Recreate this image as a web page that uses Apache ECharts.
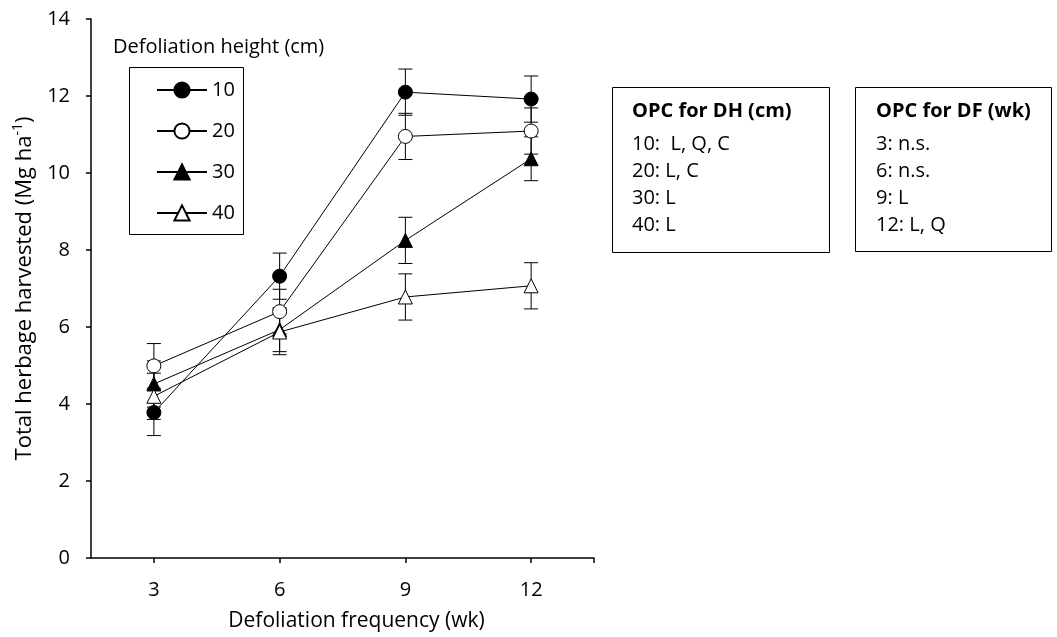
<!DOCTYPE html>
<html>
<head>
<meta charset="utf-8">
<script src="https://cdn.jsdelivr.net/npm/echarts@6/dist/echarts.min.js"></script>
<style>
  html, body { margin: 0; padding: 0; background: #fff; }
  #chart { width: 1057px; height: 637px; }
</style>
</head>
<body>
<div id="chart"></div>
<script>
// defoliation frequency (wk) on x, one line per defoliation height
const weeks = [3, 6, 9, 12];
const heights = ['10', '20', '30', '40'];
const dh10 = [3.78, 7.32, 12.10, 11.92];
const dh20 = [4.99, 6.40, 10.95, 11.09];
const dh30 = [4.52, 5.93, 8.25, 10.37];
const dh40 = [4.20, 5.87, 6.78, 7.07];
// standard errors
const se10 = [0.60, 0.60, 0.60, 0.60];
const se20 = [0.58, 0.58, 0.60, 0.60];
const se30 = [0.60, 0.57, 0.60, 0.57];
const se40 = [0.60, 0.59, 0.60, 0.60];
const xTicks = [3, 6, 9, 12];

const dhTitle = 'OPC for DH (cm)';
const dhLines = ['10:  L, Q, C', '20: L, C', '30: L', '40: L'];
const dfTitle = 'OPC for DF (wk)';
const dfLines = ['3: n.s.', '6: n.s.', '9: L', '12: L, Q'];

const FONT = '"Open Sans", sans-serif';
const FS = 20;

const values = [dh10, dh20, dh30, dh40];
const errors = [se10, se20, se30, se40];
const symbols = ['circle', 'circle', 'triangle', 'triangle'];
const fills = ['#000', '#fff', '#000', '#fff'];

const chart = echarts.init(document.getElementById('chart'));

const errSeries = heights.map((h, i) => ({
  type: 'custom',
  name: 'se' + h,
  silent: true,
  z: 1,
  data: weeks.map((w, j) => [w, values[i][j] - errors[i][j], values[i][j] + errors[i][j]]),
  renderItem(params, api) {
    const lo = api.coord([api.value(0), api.value(1)]);
    const hi = api.coord([api.value(0), api.value(2)]);
    const cap = 7;
    const st = { stroke: '#000', lineWidth: 1 };
    return {
      type: 'group',
      children: [
        { type: 'line', shape: { x1: lo[0], y1: lo[1], x2: hi[0], y2: hi[1] }, style: st },
        { type: 'line', shape: { x1: lo[0] - cap, y1: lo[1], x2: lo[0] + cap, y2: lo[1] }, style: st },
        { type: 'line', shape: { x1: hi[0] - cap, y1: hi[1], x2: hi[0] + cap, y2: hi[1] }, style: st }
      ]
    };
  }
}));

const lineSeries = heights.map((h, i) => ({
  type: 'line',
  name: h,
  z: 3,
  data: weeks.map((w, j) => [w, values[i][j]]),
  symbol: symbols[i],
  symbolSize: 14,
  showAllSymbol: true,
  lineStyle: { color: '#000', width: 1 },
  itemStyle: { color: fills[i], borderColor: '#000', borderWidth: 1, opacity: 1 },
  emphasis: { disabled: true },
  animation: false
}));

function boxText(x, y, list, title) {
  const out = [{
    type: 'text', left: x, top: y,
    style: { text: title, font: 'bold ' + FS + 'px ' + FONT, fill: '#000' }
  }];
  list.forEach((t, k) => {
    out.push({
      type: 'text', left: x, top: y + 33 + k * 27,
      style: { text: t, font: FS + 'px ' + FONT, fill: '#000' }
    });
  });
  return out;
}

const option = {
  animation: false,
  backgroundColor: '#fff',
  grid: { left: 91, right: 463, top: 19, bottom: 79, outerBoundsMode: 'none' },
  textStyle: { fontFamily: FONT },
  legend: {
    data: heights,
    orient: 'vertical',
    left: 151,
    top: 75,
    itemWidth: 50,
    itemHeight: 19,
    itemGap: 21,
    selectedMode: false,
    textStyle: { fontSize: FS, color: '#000', fontFamily: FONT }
  },
  xAxis: {
    type: 'value',
    min: 1.5,
    max: 13.5,
    name: 'Defoliation frequency (wk)',
    nameLocation: 'middle',
    nameGap: 53,
    nameTextStyle: { fontSize: 21, color: '#000', fontFamily: FONT, padding: [0, 0, 0, 28] },
    axisLine: { show: true, onZero: false, lineStyle: { color: '#000', width: 1.5 } },
    axisTick: { show: true, inside: false, length: 5, customValues: xTicks.concat([13.5]), lineStyle: { color: '#000', width: 1.5 } },
    axisLabel: { customValues: xTicks, margin: 22, fontSize: FS, color: '#000', fontFamily: FONT },
    splitLine: { show: false }
  },
  yAxis: {
    type: 'value',
    min: 0,
    max: 14,
    interval: 2,
    name: 'Total herbage harvested (Mg ha{sup|-1})',
    nameLocation: 'middle',
    nameGap: 52,
    nameRotate: 90,
    nameTextStyle: {
      fontSize: 22, color: '#000', fontFamily: FONT, lineHeight: 28,
      rich: { sup: { fontSize: 14, lineHeight: 16, verticalAlign: 'top', fontFamily: FONT, color: '#000' } }
    },
    axisLine: { show: true, onZero: false, lineStyle: { color: '#000', width: 1.5 } },
    axisTick: { show: true, inside: false, length: 5, lineStyle: { color: '#000', width: 1.5 } },
    axisLabel: { margin: 21, fontSize: FS, color: '#000', fontFamily: FONT },
    splitLine: { show: false }
  },
  graphic: [
    { type: 'rect', shape: { x: 129.5, y: 67.5, width: 114, height: 167 }, style: { fill: 'none', stroke: '#000', lineWidth: 1 } },
    { type: 'text', left: 113, top: 37, style: { text: 'Defoliation height (cm)', font: FS + 'px ' + FONT, fill: '#000' } },
    { type: 'rect', shape: { x: 612.5, y: 87.5, width: 217, height: 165 }, style: { fill: 'none', stroke: '#000', lineWidth: 1 } },
    { type: 'rect', shape: { x: 855.5, y: 87.5, width: 196, height: 164 }, style: { fill: 'none', stroke: '#000', lineWidth: 1 } }
  ].concat(boxText(632, 101, dhLines, dhTitle), boxText(876, 101, dfLines, dfTitle)),
  series: errSeries.concat(lineSeries)
};

chart.setOption(option);
</script>
</body>
</html>
